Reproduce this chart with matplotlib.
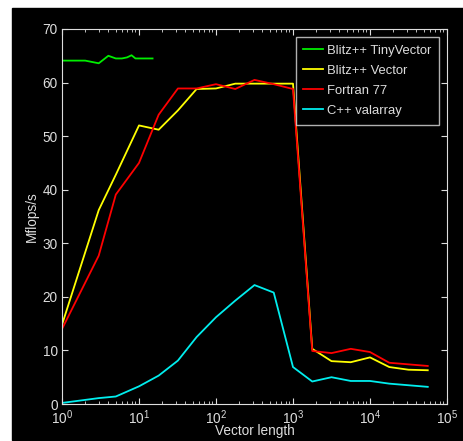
import numpy as np
import matplotlib
matplotlib.use("Agg")
import matplotlib.pyplot as plt
from matplotlib.patches import Rectangle

plt.rcParams['font.family'] = ['Liberation Sans', 'DejaVu Sans']
plt.rcParams['mathtext.fontset'] = 'custom'
plt.rcParams['mathtext.rm'] = 'Liberation Sans'
plt.rcParams['mathtext.it'] = 'Liberation Sans'

# vector lengths
n_tiny = [1, 2, 3, 4, 5, 6, 7, 8, 9, 10, 15]
n = [1, 3, 5, 10, 18, 32, 56, 100, 178, 316, 562, 1000,
     1778, 3162, 5623, 10000, 17783, 31623, 56234]

# Mflops/s
tinyvector = [64.1, 64.1, 63.6, 65.0, 64.5, 64.5, 64.7, 65.1, 64.5, 64.5, 64.5]
blitz_vector = [14.8, 36.2, 42.8, 52.0, 51.2, 54.8, 58.8, 58.9, 59.8, 59.8, 59.8, 59.8,
                10.3, 8.0, 7.8, 8.7, 6.9, 6.4, 6.3]
fortran = [14.0, 27.7, 39.1, 45.0, 54.0, 58.9, 58.9, 59.7, 58.8, 60.5, 59.7, 58.8,
           9.9, 9.5, 10.3, 9.7, 7.7, 7.4, 7.1]
valarray = [0.2, 1.1, 1.4, 3.3, 5.3, 8.1, 12.5, 16.2, 19.3, 22.2, 20.8, 6.9,
            4.2, 5.0, 4.3, 4.3, 3.8, 3.5, 3.2]

fg = '#dddddd'
fig = plt.figure(figsize=(4.64, 4.41), dpi=100, facecolor='white')
bg = Rectangle((12 / 464, 1 / 441), 1, 432 / 441, transform=fig.transFigure,
               color='black', zorder=-10)
fig.add_artist(bg)

ax = fig.add_axes([62 / 464, 37 / 441, 385 / 464, 375 / 441])
ax.set_zorder(1)
ax.set_facecolor('black')

ax.plot(n_tiny, tinyvector, color='#00ee00', lw=1.3, label='Blitz++ TinyVector')
ax.plot(n, blitz_vector, color='#ffff00', lw=1.3, label='Blitz++ Vector')
ax.plot(n, fortran, color='#ff0000', lw=1.3, label='Fortran 77')
ax.plot(n, valarray, color='#00eeee', lw=1.3, label='C++ valarray')

ax.set_xscale('log')
ax.set_xlim(1, 1e5)
ax.set_ylim(0, 70)
ax.set_xticks([1, 10, 100, 1000, 1e4, 1e5])
ax.set_xticklabels(['$10^0$', '$10^1$', '$10^2$', '$10^3$', '$10^4$', '$10^5$'])
ax.set_yticks(range(0, 71, 10))

for s in ax.spines.values():
    s.set_color(fg)
ax.tick_params(axis='both', which='both', direction='in', colors=fg,
               top=True, right=True, labelsize=9.8, pad=3)
ax.tick_params(which='major', length=4)
ax.tick_params(which='minor', length=2.5)

ax.set_xlabel('Vector length', color=fg, fontsize=9.8, labelpad=-2)
ax.set_ylabel('Mflops/s', color=fg, fontsize=9.8, labelpad=3)

leg = ax.legend(loc='upper right', fontsize=9.4, frameon=True, fancybox=False,
                facecolor='black', edgecolor=fg, labelcolor=fg,
                handlelength=1.5, handletextpad=0.3, borderaxespad=0.6,
                labelspacing=0.6, borderpad=0.6)
leg.get_frame().set_linewidth(1)

fig.savefig('out.png', dpi=100, facecolor='white')
